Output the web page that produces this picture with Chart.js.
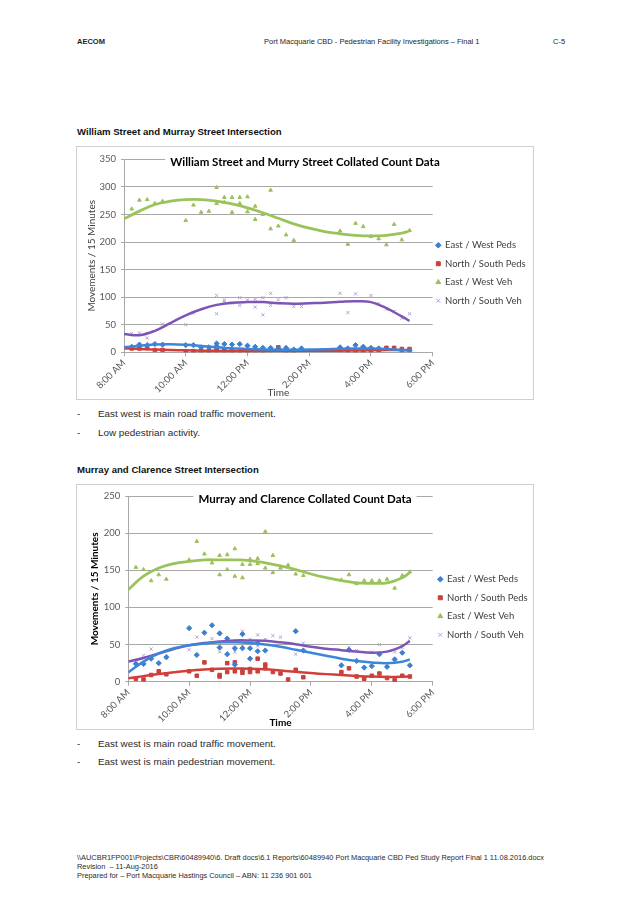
<!DOCTYPE html>
<html>
<head>
<meta charset="utf-8">
<script src="https://cdn.jsdelivr.net/npm/chart.js@4.4.1/dist/chart.umd.min.js"></script>
<style>
  html, body { margin: 0; padding: 0; background: #fff; }
  body { position: relative; width: 641px; height: 907px; overflow: hidden; font-family: "Liberation Sans", Arial, sans-serif; color: #1e1e1e; }
  .t { position: absolute; white-space: nowrap; }
  .hdr { font-size: 7.5px; line-height: 10px; }
  .b { font-weight: bold; }
  .h2 { font-size: 9.6px; line-height: 12px; font-weight: bold; color: #111; }
  .body { font-size: 9.9px; line-height: 12px; color: #2a2a2a; }
  .foot { font-size: 7.4px; line-height: 9px; color: #2a2a2a; }
  .frame { position: absolute; box-sizing: border-box; border: 1px solid #d0d0d0; }
  canvas { position: absolute; }
</style>
</head>
<body>
<div class="t hdr b" style="left:77px;top:37px">AECOM</div>
<div class="t hdr" style="left:264px;top:37px">Port Macquarie CBD - Pedestrian Facility Investigations – Final 1</div>
<div class="t hdr" style="left:553px;top:37px">C-5</div>

<div class="t h2" style="left:77px;top:126px">William Street and Murray Street Intersection</div>
<div class="frame" style="left:76px;top:146px;width:458px;height:254px"></div>
<canvas id="c1" width="456" height="252" style="left:77px;top:147px"></canvas>
<div class="t body" style="left:77px;top:408px">-</div>
<div class="t body" style="left:98px;top:408px">East west is main road traffic movement.</div>
<div class="t body" style="left:77px;top:427px">-</div>
<div class="t body" style="left:98px;top:427px">Low pedestrian activity.</div>

<div class="t h2" style="left:77px;top:464px">Murray and Clarence Street Intersection</div>
<div class="frame" style="left:76px;top:484px;width:458px;height:246px"></div>
<canvas id="c2" width="456" height="244" style="left:77px;top:485px"></canvas>
<div class="t body" style="left:77px;top:738px">-</div>
<div class="t body" style="left:98px;top:738px">East west is main road traffic movement.</div>
<div class="t body" style="left:77px;top:756px">-</div>
<div class="t body" style="left:98px;top:756px">East west is main pedestrian movement.</div>

<div class="t foot" style="left:77px;top:853px">\\AUCBR1FP001\Projects\CBR\60489940\6. Draft docs\6.1 Reports\60489940 Port Macquarie CBD Ped Study Report Final 1 11.08.2016.docx</div>
<div class="t foot" style="left:77px;top:862px">Revision &nbsp;– 11-Aug-2016</div>
<div class="t foot" style="left:77px;top:871px">Prepared for – Port Macquarie Hastings Council – ABN: 11 236 901 601</div>

<script>
// ---------------- DATA ----------------
const seriesNames = ['East / West Peds', 'North / South Peds', 'East / West Veh', 'North / South Veh'];
const hourTicks = [8, 10, 12, 14, 16, 18];
const hourLabels = ['8:00 AM', '10:00 AM', '12:00 PM', '2:00 PM', '4:00 PM', '6:00 PM'];
const yAxisTitle = 'Movements / 15 Minutes';
const xAxisTitle = 'Time';

// Trendline sample times (shared)
const trendTimes = ['8:00','8:30','9:00','9:30','10:00','10:30','11:00','11:30','12:00','12:30',
                    '13:00','13:30','14:00','14:30','15:00','15:30','16:00','16:30','17:00','17:15'];

// Chart 1: William Street and Murray Street
const wmTitle = 'William Street and Murry Street Collated Count Data';
const wmYMax = 350;

const wmEwPedsTimes = ['8:15','8:30','8:45','9:00','9:15','10:00','10:15','10:30','10:45','11:00','11:00','11:15','11:30','11:45','12:00','12:15','12:30','12:45','13:00','13:15','13:30','13:45','15:00','15:15','15:30','15:45','16:00','16:15','17:00','17:15'];
const wmEwPedsCounts = [10,14,13,15,14,13,13,9,9,16,11,15,14,15,12,10,8,8,7,8,5,7,9,7,13,10,8,7,3,3];

const wmNsPedsTimes = ['8:15','8:30','8:45','9:00','9:15','10:00','10:15','10:30','10:45','11:00','11:00','11:15','11:15','11:30','11:45','12:00','12:15','12:30','12:45','13:00','13:15','13:30','15:00','15:15','15:30','15:45','16:00','16:15','16:30','16:45','17:00','17:15'];
const wmNsPedsCounts = [7,7,8,4,4,2,2,3,2,6,0,0,5,3,2,2,0,3,4,9,0,1,4,1,2,0,1,4,8,8,6,6];

const wmEwVehTimes = ['8:15','8:30','8:45','9:00','9:15','10:00','10:15','10:30','10:45','11:00','11:00','11:15','11:15','11:30','11:30','11:45','11:45','12:00','12:00','12:15','12:15','12:30','12:45','12:45','13:00','13:15','13:30','15:00','15:15','15:30','15:45','16:00','16:15','16:30','16:45','17:00','17:15'];
const wmEwVehCounts = [260,276,277,270,274,239,267,254,256,299,270,281,272,281,254,281,270,282,255,265,241,250,294,224,229,213,203,220,196,234,228,210,206,195,232,204,221];

const wmNsVehTimes = ['8:15','8:30','8:45','9:15','10:00','10:15','11:00','11:00','11:15','11:15','11:30','11:45','11:45','12:00','12:15','12:15','12:30','12:30','12:45','12:45','13:00','13:15','13:30','13:45','15:00','15:15','15:30','16:00','16:15','16:30','16:45','17:00','17:15'];
const wmNsVehCounts = [34,35,26,51,50,71,103,70,95,91,89,99,85,95,96,82,99,68,107,85,95,99,83,83,107,72,106,103,88,78,74,62,70];

const wmEwPedsTrend = [9,12,14,14.5,13.5,11.5,9,7.5,6,5,4.5,4.5,5,5.5,6.5,7,7,6,4,3];
const wmNsPedsTrend = [7.5,6,5,4.2,3.6,3,2.6,2.4,2.3,2.3,2.4,2.5,2.6,2.8,3,3.3,3.6,4,4.3,4.5];
const wmEwVehTrend = [242,256,268,274,277,277,274,269,262,253,243,233,225,219,215,212,211,212,216,220];
const wmNsVehTrend = [33,31,39,53,67,78,86,90,91,91,89,88,89,90,91.5,92.5,91,80,65,57];

// Chart 2: Murray and Clarence
const mcTitle = 'Murray and Clarence Collated Count Data';
const mcYMax = 250;

const mcEwPedsTimes = ['8:15','8:30','8:45','9:00','9:15','10:00','10:15','10:30','10:45','11:00','11:00','11:15','11:15','11:30','11:30','11:45','11:45','12:00','12:00','12:15','12:15','12:30','13:30','13:45','15:00','15:15','15:30','15:45','16:00','16:15','16:30','16:45','17:00','17:15'];
const mcEwPedsCounts = [24,24,31,25,33,72,36,66,76,65,46,58,37,45,23,64,45,45,31,52,41,42,68,42,22,43,28,19,21,37,20,30,39,22];

const mcNsPedsTimes = ['8:15','8:30','8:45','9:00','9:15','10:00','10:15','10:30','10:45','11:00','11:00','11:15','11:15','11:30','11:30','11:45','11:45','12:00','12:00','12:15','12:15','12:30','12:30','12:45','13:00','13:15','13:30','13:45','15:00','15:15','15:30','15:45','16:00','16:15','16:30','16:45','17:00','17:15'];
const mcNsPedsCounts = [4,3,9,14,10,14,8,26,16,9,7,25,13,26,14,16,12,17,13,31,14,23,18,13,11,3,16,6,13,18,7,4,8,11,5,2,8,7];

const mcEwVehTimes = ['8:15','8:30','8:45','9:00','9:15','10:00','10:15','10:30','10:45','11:00','11:00','11:15','11:15','11:30','11:30','11:45','11:45','12:00','12:00','12:15','12:15','12:30','12:30','12:45','12:45','13:00','13:15','13:30','13:45','15:00','15:15','15:30','15:45','16:00','16:15','16:30','16:45','17:00','17:15'];
const mcEwVehCounts = [154,151,136,144,138,164,189,172,160,170,144,171,151,179,142,158,140,165,158,166,159,202,153,170,147,153,157,145,143,137,144,132,136,136,136,138,126,143,148];

const mcNsVehTimes = ['8:15','8:30','8:45','9:15','10:00','10:15','10:45','11:00','11:00','11:30','11:45','11:45','12:00','12:15','12:15','12:30','12:45','13:00','13:30','13:45','15:15','15:30','16:00','16:15','16:45','17:00','17:15'];
const mcNsVehCounts = [25,35,44,32,43,60,58,53,40,40,68,48,57,63,48,57,62,60,37,52,46,42,40,50,40,46,59];

const mcEwPedsTrend = [12.5,27,38,45,49,51.5,53,53,52,50,47,43,39,35,31,28,26,25,27,30];
const mcNsPedsTrend = [4.5,7.5,10.3,12.7,14.8,16.3,17.3,17.7,17.5,16.7,15,13.3,11.6,10.2,9,7.8,6.9,6.4,6.5,7.5];
const mcEwVehTrend = [124,142,153,159,162,164,164,164,163,160,156,151,145,140,136,133,132.5,133,140,147];
const mcNsVehTrend = [27,32,38,44,49,52,54,55.5,55.5,55,53,50.5,47,44.5,42.5,40.5,39,40.5,48,55];

// ---------------- STYLES ----------------
const seriesStyles = [
  { pointStyle: 'rectRot', marker: '#3d7fcf', line: '#3b86d8', radius: 2.6, border: 1 },
  { pointStyle: 'rect', marker: '#c9403b', line: '#d23f3a', radius: 2.5, border: 1 },
  { pointStyle: 'triangle', marker: '#9bc05a', line: '#9ac45a', radius: 2.1, border: 1 },
  { pointStyle: 'crossRot', marker: '#b3a1d6', line: '#7d55b5', radius: 2.3, border: 1 }
];

Chart.defaults.font.family = 'Lato, "Open Sans", sans-serif';
Chart.defaults.color = '#595959';

function toHour(t) { const p = t.split(':'); return Number(p[0]) + Number(p[1]) / 60; }
function pts(times, vals) { return times.map((t, i) => ({ x: toHour(t), y: vals[i] })); }

const titleBackdrop = {
  id: 'titleBackdrop',
  beforeDraw(chart, args, opts) {
    const tb = chart.titleBlock;
    if (!tb || tb._bdPatched) return;
    const orig = tb.draw;
    tb.draw = function () {
      const ctx = this.ctx;
      ctx.save();
      ctx.font = opts.font;
      const w = ctx.measureText(opts.text).width;
      const cx = (this.left + this.right) / 2;
      const cy = this.top + opts.padTop + opts.lineHeight / 2;
      ctx.fillStyle = '#ffffff';
      ctx.fillRect(cx - w / 2 - 5, cy - 8, w + 10, 16);
      ctx.restore();
      return orig.apply(this, arguments);
    };
    tb._bdPatched = true;
  }
};

const legendShift = {
  id: 'legendShift',
  afterLayout(chart, args, opts) {
    const lg = chart.legend;
    if (lg && opts.dx) { lg.left += opts.dx; lg.right += opts.dx; }
  }
};

function makeChart(id, o) {
  const scatterSets = o.series.map((s, i) => {
    const st = seriesStyles[i];
    return {
      label: seriesNames[i],
      data: pts(s.times, s.counts),
      showLine: false,
      pointStyle: st.pointStyle,
      pointRadius: st.radius,
      pointHoverRadius: st.radius,
      pointBackgroundColor: st.marker,
      pointBorderColor: st.marker,
      pointBorderWidth: st.border,
      backgroundColor: st.marker,
      borderColor: st.marker,
      order: 1
    };
  });
  const trendSets = o.series.map((s, i) => {
    const st = seriesStyles[i];
    return {
      label: 'Poly. (' + seriesNames[i] + ')',
      data: pts(trendTimes, s.trend),
      showLine: true,
      pointRadius: 0,
      borderColor: st.line,
      backgroundColor: st.line,
      borderWidth: i === 2 ? 2.8 : 2.5,
      tension: 0.4,
      fill: false,
      order: 0
    };
  });
  const titleFontSize = 11.5;
  const titleLH = titleFontSize * 1.2;
  const titleFontStr = 'bold ' + titleFontSize + 'px Lato, "Open Sans", sans-serif';
  const axisTitleFont = { size: 10, weight: o.bold ? 'bold' : 'normal' };
  const axisTitleColor = o.bold ? '#000000' : '#404040';
  return new Chart(document.getElementById(id), {
    type: 'scatter',
    data: { datasets: scatterSets.concat(trendSets) },
    options: {
      responsive: false,
      animation: false,
      devicePixelRatio: 1,
      layout: { padding: 0 },
      plugins: {
        title: {
          display: true, text: o.title, color: '#000000',
          font: { size: titleFontSize, weight: 'bold', lineHeight: 1.2 },
          padding: { top: o.titlePadTop, bottom: o.titlePadBottom }
        },
        titleBackdrop: { font: titleFontStr, text: o.title, padTop: o.titlePadTop, lineHeight: titleLH },
        legend: {
          position: 'right',
          maxWidth: o.legendWidth,
          labels: {
            usePointStyle: true, boxWidth: 4, boxHeight: 4, padding: 9,
            font: { size: 9.5 }, color: '#404040',
            filter: (item) => item.datasetIndex < 4
          }
        },
        legendShift: { dx: o.legendDx },
        tooltip: { enabled: false }
      },
      scales: {
        x: {
          type: 'linear', min: 8, max: 18,
          afterBuildTicks: (s) => { s.ticks = hourTicks.map((v) => ({ value: v })); },
          afterFit: (s) => { s.height = o.xAxisHeight; },
          ticks: {
            autoSkip: false, minRotation: 45, maxRotation: 45, padding: 1,
            font: { size: 9.5 }, color: '#595959',
            callback: (v, i) => hourLabels[i]
          },
          grid: { drawOnChartArea: false, drawTicks: true, tickLength: 4, color: '#a8a8a8' },
          border: { color: '#a8a8a8' },
          title: { display: true, text: xAxisTitle, font: axisTitleFont, color: axisTitleColor, padding: 0 }
        },
        y: {
          min: 0, max: o.yMax,
          afterFit: (s) => { s.width = o.yAxisWidth; },
          ticks: { stepSize: 50, padding: 5, font: { size: 9.5 }, color: '#595959' },
          grid: { color: '#a8a8a8', tickLength: 3 },
          border: { color: '#a8a8a8' },
          title: { display: true, text: yAxisTitle, font: axisTitleFont, color: axisTitleColor, padding: { top: o.yTitlePad, bottom: 0 } }
        }
      }
    },
    plugins: [titleBackdrop, legendShift]
  });
}

makeChart('c1', {
  title: wmTitle, yMax: wmYMax, bold: false,
  titlePadTop: 8.8, titlePadBottom: -10.3,
  yAxisWidth: 47, xAxisHeight: 46.7, legendWidth: 100.3, legendDx: -5.4, yTitlePad: 8.7,
  series: [
    { times: wmEwPedsTimes, counts: wmEwPedsCounts, trend: wmEwPedsTrend },
    { times: wmNsPedsTimes, counts: wmNsPedsCounts, trend: wmNsPedsTrend },
    { times: wmEwVehTimes, counts: wmEwVehCounts, trend: wmEwVehTrend },
    { times: wmNsVehTimes, counts: wmNsVehCounts, trend: wmNsVehTrend }
  ]
});

makeChart('c2', {
  title: mcTitle, yMax: mcYMax, bold: true,
  titlePadTop: 7.4, titlePadBottom: -10.2,
  yAxisWidth: 51.3, xAxisHeight: 47.3, legendWidth: 100.3, legendDx: -3.4, yTitlePad: 11.3,
  series: [
    { times: mcEwPedsTimes, counts: mcEwPedsCounts, trend: mcEwPedsTrend },
    { times: mcNsPedsTimes, counts: mcNsPedsCounts, trend: mcNsPedsTrend },
    { times: mcEwVehTimes, counts: mcEwVehCounts, trend: mcEwVehTrend },
    { times: mcNsVehTimes, counts: mcNsVehCounts, trend: mcNsVehTrend }
  ]
});
</script>
</body>
</html>
